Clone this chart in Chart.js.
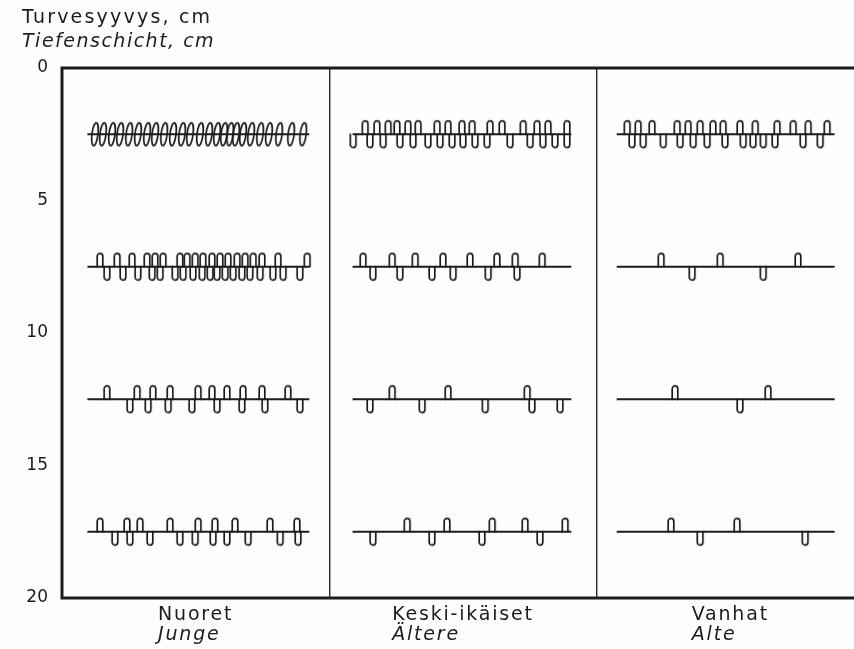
<!DOCTYPE html>
<html>
<head>
<meta charset="utf-8">
<script src="https://cdn.jsdelivr.net/npm/chart.js@4.4.1/dist/chart.umd.min.js"></script>
<style>
  html, body { margin: 0; padding: 0; background: #fdfdfc; overflow: hidden; }
  #wrap { width: 880px; height: 649px; }
</style>
</head>
<body>
<div id="wrap"><canvas id="chart"></canvas></div>
<script>
// syvyydet (cm) joilla juuret on piirretty
const depths = [2.5, 7.5, 12.5, 17.5];

// ryhmät: 0..1 Nuoret, 1..2 Keski-ikäiset, 2..3 Vanhat
const categories = ['Nuoret', 'Keski-ikäiset', 'Vanhat'];
const categoriesDe = ['Junge', 'Ältere', 'Alte'];
const axisTitle = ['Turvesyyvys, cm', 'Tiefenschicht, cm'];
const depthTicks = [0, 5, 10, 15, 20];

// vaakaviivan alku ja loppu kussakin ryhmässä
const lineStart = [0.095, 1.087, 2.075];
const lineEnd = [0.925, 1.905, 2.89];

// tiheät kierteet (ylös ja alas)
const coilLoops = [
  [0.123, 0.153, 0.187, 0.217, 0.251, 0.284, 0.318, 0.348, 0.382, 0.415, 0.449, 0.479,
   0.516, 0.550, 0.580, 0.606, 0.629, 0.651, 0.677, 0.707, 0.741, 0.774, 0.812, 0.857, 0.902],
  [], [], []
];

// silmukat viivan yläpuolella
const upLoops = [
  [1.134, 1.178, 1.220, 1.253, 1.294, 1.332, 1.403, 1.444, 1.496, 1.534, 1.601, 1.646, 1.725, 1.777, 1.818, 1.889,
   2.114, 2.155, 2.207, 2.301, 2.342, 2.387, 2.435, 2.473, 2.536, 2.593, 2.675, 2.735, 2.791, 2.862],
  [0.142, 0.206, 0.262, 0.318, 0.348, 0.378, 0.441, 0.468, 0.498, 0.527, 0.561, 0.591, 0.621, 0.655, 0.685, 0.715, 0.748, 0.808, 0.917,
   1.126, 1.235, 1.321, 1.425, 1.526, 1.627, 1.695, 1.796,
   2.241, 2.462, 2.753],
  [0.168, 0.281, 0.340, 0.404, 0.509, 0.561, 0.617, 0.677, 0.748, 0.845,
   1.235, 1.444, 1.740,
   2.293, 2.641],
  [0.142, 0.243, 0.292, 0.404, 0.509, 0.572, 0.647, 0.778, 0.879,
   1.291, 1.440, 1.609, 1.732, 1.882,
   2.278, 2.525]
];

// silmukat viivan alapuolella
const downLoops = [
  [1.089, 1.152, 1.201, 1.264, 1.313, 1.369, 1.414, 1.459, 1.500, 1.545, 1.590, 1.676, 1.751, 1.799, 1.844, 1.889,
   2.132, 2.174, 2.249, 2.312, 2.361, 2.413, 2.480, 2.548, 2.585, 2.623, 2.667, 2.772, 2.836],
  [0.168, 0.228, 0.284, 0.337, 0.367, 0.423, 0.453, 0.490, 0.524, 0.554, 0.580, 0.610, 0.640, 0.673, 0.703, 0.741, 0.789, 0.827, 0.890,
   1.163, 1.264, 1.384, 1.463, 1.594, 1.702,
   2.357, 2.623],
  [0.254, 0.322, 0.397, 0.486, 0.580, 0.673, 0.759, 0.890,
   1.152, 1.347, 1.583, 1.758, 1.863,
   2.536],
  [0.198, 0.254, 0.329, 0.441, 0.498, 0.565, 0.617, 0.696, 0.816, 0.883,
   1.163, 1.384, 1.571, 1.788,
   2.387, 2.780]
];

const ink = '#1c1c1c';
const font = '"DejaVu Sans", sans-serif';

function makeLoop(kind) {
  const c = document.createElement('canvas');
  c.width = 10; c.height = 34;
  const g = c.getContext('2d');
  g.strokeStyle = ink; g.lineWidth = 1.7; g.lineCap = 'round';
  const mid = 17;
  g.beginPath();
  if (kind === 'up') {
    g.moveTo(2.2, mid); g.lineTo(2.2, mid - 10.5);
    g.arc(5, mid - 10.5, 2.8, Math.PI, 0);
    g.lineTo(7.8, mid);
  } else if (kind === 'down') {
    g.moveTo(2.2, mid); g.lineTo(2.2, mid + 10.5);
    g.arc(5, mid + 10.5, 2.8, Math.PI, 0, true);
    g.lineTo(7.8, mid);
  } else {
    g.ellipse(5, mid, 3, 11.5, 0.12, 0, Math.PI * 2);
  }
  g.stroke();
  return c;
}

function points(rows) {
  const out = [];
  rows.forEach((row, i) => row.forEach(x => out.push({ x: x, y: depths[i] })));
  return out;
}

const baseLines = [];
depths.forEach(d => {
  lineStart.forEach((s, p) => {
    baseLines.push({ x: s, y: d }, { x: lineEnd[p], y: d }, { x: lineEnd[p] + 0.01, y: null });
  });
});

const frame = {
  id: 'frame',
  afterDatasetsDraw(chart) {
    const a = chart.chartArea, ctx = chart.ctx;
    ctx.save();
    ctx.strokeStyle = ink;
    ctx.lineWidth = 3;
    ctx.strokeRect(a.left, a.top, a.right - a.left, a.bottom - a.top);
    ctx.restore();
  }
};

const labels = {
  id: 'labels',
  afterDraw(chart) {
    const ctx = chart.ctx, a = chart.chartArea, xs = chart.scales.x;
    ctx.save();
    ctx.fillStyle = ink;
    ctx.textBaseline = 'middle';
    ctx.textAlign = 'left';
    ctx.font = '19px ' + font;
    ctx.letterSpacing = '2.2px';
    ctx.fillText(axisTitle[0], 22, 18);
    ctx.font = 'italic 19px ' + font;
    ctx.letterSpacing = '1.5px';
    ctx.fillText(axisTitle[1], 22, 42);
    ctx.letterSpacing = '1.8px';
    categories.forEach((name, i) => {
      const cx = xs.getPixelForValue(i + 0.5);
      ctx.font = '19px ' + font;
      const w = ctx.measureText(name).width;
      ctx.fillText(name, cx - w / 2, a.bottom + 17);
      ctx.font = 'italic 19px ' + font;
      ctx.fillText(categoriesDe[i], cx - w / 2, a.bottom + 37);
    });
    ctx.restore();
  }
};

new Chart(document.getElementById('chart'), {
  data: {
    datasets: [
      { type: 'line', data: baseLines, borderColor: ink, borderWidth: 2.2, pointRadius: 0, spanGaps: false },
      { type: 'scatter', data: points(coilLoops), pointStyle: makeLoop('coil'), pointRadius: 5 },
      { type: 'scatter', data: points(upLoops), pointStyle: makeLoop('up'), pointRadius: 5 },
      { type: 'scatter', data: points(downLoops), pointStyle: makeLoop('down'), pointRadius: 5 }
    ]
  },
  options: {
    responsive: true,
    maintainAspectRatio: false,
    animation: false,
    layout: { padding: { top: 68, right: 16, left: 0, bottom: 0 } },
    plugins: { legend: { display: false }, tooltip: { enabled: false } },
    scales: {
      x: {
        type: 'linear', min: 0, max: 3,
        afterBuildTicks: s => { s.ticks = [1, 2].map(v => ({ value: v })); },
        afterFit: s => { s.height = 51; },
        ticks: { display: false },
        grid: { color: '#2a2a2a', lineWidth: 1.4, drawTicks: false },
        border: { display: false }
      },
      y: {
        type: 'linear', reverse: true, min: 0, max: 20,
        afterBuildTicks: s => { s.ticks = depthTicks.map(v => ({ value: v })); },
        afterFit: s => { s.width = 62; },
        ticks: { color: ink, font: { family: font, size: 17 }, padding: 6 },
        grid: { display: false },
        border: { display: false }
      }
    }
  },
  plugins: [frame, labels]
});
</script>
</body>
</html>
